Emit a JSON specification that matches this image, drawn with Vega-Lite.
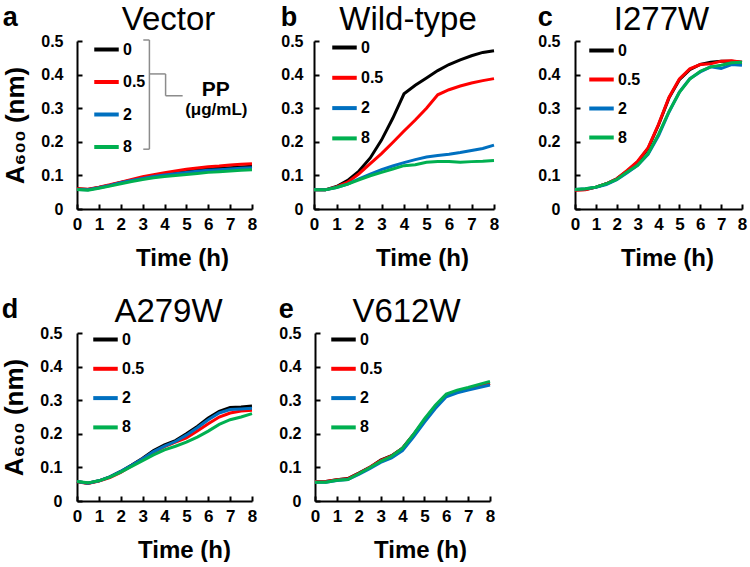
{
  "$schema": "https://vega.github.io/schema/vega-lite/v6.json",
  "padding": {"left": 1, "top": 4, "right": 0, "bottom": 0},
  "background": "white",
  "config": {
    "font": "Liberation Sans",
    "view": {"stroke": null},
    "axis": {
      "grid": false,
      "domainColor": "black",
      "domainWidth": 2,
      "tickColor": "black",
      "tickWidth": 2,
      "tickSize": -5,
      "labelFont": "Liberation Sans",
      "labelFontWeight": "bold",
      "labelFontSize": 16,
      "labelColor": "black",
      "titleFont": "Liberation Sans",
      "titleColor": "black",
      "titleFontWeight": "bold"
    },
    "axisX": {"labelPadding": 12, "labelFontSize": 17, "titleFontSize": 24, "titlePadding": 14, "titleX": 105, "labelFlush": false},
    "axisY": {"labelPadding": 19, "titleFontSize": 26, "titlePadding": 12},
    "legend": {
      "title": null,
      "orient": "none",
      "symbolType": "stroke",
      "symbolStrokeWidth": 4,
      "symbolSize": 600,
      "labelFont": "Liberation Sans",
      "labelFontSize": 16,
      "labelFontWeight": "bold",
      "labelColor": "black",
      "labelOffset": 2,
      "rowPadding": 7,
      "padding": 0
    },
    "title": {"font": "Liberation Sans", "color": "black"}
  },
  "datasets": {
    "d": [
      {"p":"a","c":"0","t":0,"v":0.06},{"p":"a","c":"0","t":0.5,"v":0.058},{"p":"a","c":"0","t":1,"v":0.064},{"p":"a","c":"0","t":1.5,"v":0.071},{"p":"a","c":"0","t":2,"v":0.079},{"p":"a","c":"0","t":2.5,"v":0.086},{"p":"a","c":"0","t":3,"v":0.093},{"p":"a","c":"0","t":3.5,"v":0.099},{"p":"a","c":"0","t":4,"v":0.104},{"p":"a","c":"0","t":4.5,"v":0.108},{"p":"a","c":"0","t":5,"v":0.112},{"p":"a","c":"0","t":5.5,"v":0.116},{"p":"a","c":"0","t":6,"v":0.119},{"p":"a","c":"0","t":6.5,"v":0.121},{"p":"a","c":"0","t":7,"v":0.123},{"p":"a","c":"0","t":7.5,"v":0.125},{"p":"a","c":"0","t":8,"v":0.127},
      {"p":"a","c":"0.5","t":0,"v":0.06},{"p":"a","c":"0.5","t":0.5,"v":0.059},{"p":"a","c":"0.5","t":1,"v":0.065},{"p":"a","c":"0.5","t":1.5,"v":0.072},{"p":"a","c":"0.5","t":2,"v":0.08},{"p":"a","c":"0.5","t":2.5,"v":0.088},{"p":"a","c":"0.5","t":3,"v":0.096},{"p":"a","c":"0.5","t":3.5,"v":0.102},{"p":"a","c":"0.5","t":4,"v":0.108},{"p":"a","c":"0.5","t":4.5,"v":0.113},{"p":"a","c":"0.5","t":5,"v":0.118},{"p":"a","c":"0.5","t":5.5,"v":0.122},{"p":"a","c":"0.5","t":6,"v":0.126},{"p":"a","c":"0.5","t":6.5,"v":0.128},{"p":"a","c":"0.5","t":7,"v":0.131},{"p":"a","c":"0.5","t":7.5,"v":0.133},{"p":"a","c":"0.5","t":8,"v":0.135},
      {"p":"a","c":"2","t":0,"v":0.058},{"p":"a","c":"2","t":0.5,"v":0.057},{"p":"a","c":"2","t":1,"v":0.063},{"p":"a","c":"2","t":1.5,"v":0.07},{"p":"a","c":"2","t":2,"v":0.078},{"p":"a","c":"2","t":2.5,"v":0.085},{"p":"a","c":"2","t":3,"v":0.091},{"p":"a","c":"2","t":3.5,"v":0.097},{"p":"a","c":"2","t":4,"v":0.101},{"p":"a","c":"2","t":4.5,"v":0.105},{"p":"a","c":"2","t":5,"v":0.109},{"p":"a","c":"2","t":5.5,"v":0.112},{"p":"a","c":"2","t":6,"v":0.115},{"p":"a","c":"2","t":6.5,"v":0.117},{"p":"a","c":"2","t":7,"v":0.119},{"p":"a","c":"2","t":7.5,"v":0.121},{"p":"a","c":"2","t":8,"v":0.123},
      {"p":"a","c":"8","t":0,"v":0.058},{"p":"a","c":"8","t":0.5,"v":0.056},{"p":"a","c":"8","t":1,"v":0.062},{"p":"a","c":"8","t":1.5,"v":0.068},{"p":"a","c":"8","t":2,"v":0.075},{"p":"a","c":"8","t":2.5,"v":0.082},{"p":"a","c":"8","t":3,"v":0.088},{"p":"a","c":"8","t":3.5,"v":0.093},{"p":"a","c":"8","t":4,"v":0.097},{"p":"a","c":"8","t":4.5,"v":0.1},{"p":"a","c":"8","t":5,"v":0.103},{"p":"a","c":"8","t":5.5,"v":0.106},{"p":"a","c":"8","t":6,"v":0.109},{"p":"a","c":"8","t":6.5,"v":0.111},{"p":"a","c":"8","t":7,"v":0.113},{"p":"a","c":"8","t":7.5,"v":0.115},{"p":"a","c":"8","t":8,"v":0.117},

      {"p":"b","c":"0","t":0,"v":0.057},{"p":"b","c":"0","t":0.5,"v":0.057},{"p":"b","c":"0","t":1,"v":0.067},{"p":"b","c":"0","t":1.5,"v":0.085},{"p":"b","c":"0","t":2,"v":0.113},{"p":"b","c":"0","t":2.5,"v":0.152},{"p":"b","c":"0","t":3,"v":0.205},{"p":"b","c":"0","t":3.5,"v":0.27},{"p":"b","c":"0","t":4,"v":0.343},{"p":"b","c":"0","t":4.5,"v":0.368},{"p":"b","c":"0","t":5,"v":0.39},{"p":"b","c":"0","t":5.5,"v":0.412},{"p":"b","c":"0","t":6,"v":0.43},{"p":"b","c":"0","t":6.5,"v":0.444},{"p":"b","c":"0","t":7,"v":0.456},{"p":"b","c":"0","t":7.5,"v":0.466},{"p":"b","c":"0","t":8,"v":0.471},
      {"p":"b","c":"0.5","t":0,"v":0.057},{"p":"b","c":"0.5","t":0.5,"v":0.057},{"p":"b","c":"0.5","t":1,"v":0.066},{"p":"b","c":"0.5","t":1.5,"v":0.08},{"p":"b","c":"0.5","t":2,"v":0.105},{"p":"b","c":"0.5","t":2.5,"v":0.135},{"p":"b","c":"0.5","t":3,"v":0.165},{"p":"b","c":"0.5","t":3.5,"v":0.198},{"p":"b","c":"0.5","t":4,"v":0.232},{"p":"b","c":"0.5","t":4.5,"v":0.265},{"p":"b","c":"0.5","t":5,"v":0.3},{"p":"b","c":"0.5","t":5.5,"v":0.34},{"p":"b","c":"0.5","t":6,"v":0.355},{"p":"b","c":"0.5","t":6.5,"v":0.366},{"p":"b","c":"0.5","t":7,"v":0.375},{"p":"b","c":"0.5","t":7.5,"v":0.382},{"p":"b","c":"0.5","t":8,"v":0.388},
      {"p":"b","c":"2","t":0,"v":0.057},{"p":"b","c":"2","t":0.5,"v":0.057},{"p":"b","c":"2","t":1,"v":0.064},{"p":"b","c":"2","t":1.5,"v":0.074},{"p":"b","c":"2","t":2,"v":0.09},{"p":"b","c":"2","t":2.5,"v":0.104},{"p":"b","c":"2","t":3,"v":0.117},{"p":"b","c":"2","t":3.5,"v":0.128},{"p":"b","c":"2","t":4,"v":0.138},{"p":"b","c":"2","t":4.5,"v":0.147},{"p":"b","c":"2","t":5,"v":0.155},{"p":"b","c":"2","t":5.5,"v":0.159},{"p":"b","c":"2","t":6,"v":0.163},{"p":"b","c":"2","t":6.5,"v":0.168},{"p":"b","c":"2","t":7,"v":0.174},{"p":"b","c":"2","t":7.5,"v":0.18},{"p":"b","c":"2","t":8,"v":0.19},
      {"p":"b","c":"8","t":0,"v":0.057},{"p":"b","c":"8","t":0.5,"v":0.057},{"p":"b","c":"8","t":1,"v":0.064},{"p":"b","c":"8","t":1.5,"v":0.074},{"p":"b","c":"8","t":2,"v":0.087},{"p":"b","c":"8","t":2.5,"v":0.099},{"p":"b","c":"8","t":3,"v":0.109},{"p":"b","c":"8","t":3.5,"v":0.119},{"p":"b","c":"8","t":4,"v":0.129},{"p":"b","c":"8","t":4.5,"v":0.132},{"p":"b","c":"8","t":5,"v":0.139},{"p":"b","c":"8","t":5.5,"v":0.141},{"p":"b","c":"8","t":6,"v":0.141},{"p":"b","c":"8","t":6.5,"v":0.139},{"p":"b","c":"8","t":7,"v":0.141},{"p":"b","c":"8","t":7.5,"v":0.142},{"p":"b","c":"8","t":8,"v":0.144},

      {"p":"c","c":"0","t":0,"v":0.057},{"p":"c","c":"0","t":0.5,"v":0.058},{"p":"c","c":"0","t":1,"v":0.065},{"p":"c","c":"0","t":1.5,"v":0.075},{"p":"c","c":"0","t":2,"v":0.09},{"p":"c","c":"0","t":2.5,"v":0.113},{"p":"c","c":"0","t":3,"v":0.14},{"p":"c","c":"0","t":3.5,"v":0.18},{"p":"c","c":"0","t":4,"v":0.25},{"p":"c","c":"0","t":4.5,"v":0.33},{"p":"c","c":"0","t":5,"v":0.385},{"p":"c","c":"0","t":5.5,"v":0.415},{"p":"c","c":"0","t":6,"v":0.43},{"p":"c","c":"0","t":6.5,"v":0.437},{"p":"c","c":"0","t":7,"v":0.44},{"p":"c","c":"0","t":7.5,"v":0.44},{"p":"c","c":"0","t":8,"v":0.437},
      {"p":"c","c":"0.5","t":0,"v":0.056},{"p":"c","c":"0.5","t":0.5,"v":0.057},{"p":"c","c":"0.5","t":1,"v":0.065},{"p":"c","c":"0.5","t":1.5,"v":0.075},{"p":"c","c":"0.5","t":2,"v":0.09},{"p":"c","c":"0.5","t":2.5,"v":0.115},{"p":"c","c":"0.5","t":3,"v":0.142},{"p":"c","c":"0.5","t":3.5,"v":0.182},{"p":"c","c":"0.5","t":4,"v":0.252},{"p":"c","c":"0.5","t":4.5,"v":0.332},{"p":"c","c":"0.5","t":5,"v":0.387},{"p":"c","c":"0.5","t":5.5,"v":0.417},{"p":"c","c":"0.5","t":6,"v":0.43},{"p":"c","c":"0.5","t":6.5,"v":0.432},{"p":"c","c":"0.5","t":7,"v":0.44},{"p":"c","c":"0.5","t":7.5,"v":0.441},{"p":"c","c":"0.5","t":8,"v":0.437},
      {"p":"c","c":"2","t":0,"v":0.058},{"p":"c","c":"2","t":0.5,"v":0.06},{"p":"c","c":"2","t":1,"v":0.065},{"p":"c","c":"2","t":1.5,"v":0.073},{"p":"c","c":"2","t":2,"v":0.087},{"p":"c","c":"2","t":2.5,"v":0.108},{"p":"c","c":"2","t":3,"v":0.13},{"p":"c","c":"2","t":3.5,"v":0.163},{"p":"c","c":"2","t":4,"v":0.218},{"p":"c","c":"2","t":4.5,"v":0.288},{"p":"c","c":"2","t":5,"v":0.348},{"p":"c","c":"2","t":5.5,"v":0.388},{"p":"c","c":"2","t":6,"v":0.408},{"p":"c","c":"2","t":6.5,"v":0.423},{"p":"c","c":"2","t":7,"v":0.418},{"p":"c","c":"2","t":7.5,"v":0.43},{"p":"c","c":"2","t":8,"v":0.428},
      {"p":"c","c":"8","t":0,"v":0.058},{"p":"c","c":"8","t":0.5,"v":0.06},{"p":"c","c":"8","t":1,"v":0.065},{"p":"c","c":"8","t":1.5,"v":0.075},{"p":"c","c":"8","t":2,"v":0.088},{"p":"c","c":"8","t":2.5,"v":0.11},{"p":"c","c":"8","t":3,"v":0.13},{"p":"c","c":"8","t":3.5,"v":0.165},{"p":"c","c":"8","t":4,"v":0.222},{"p":"c","c":"8","t":4.5,"v":0.29},{"p":"c","c":"8","t":5,"v":0.347},{"p":"c","c":"8","t":5.5,"v":0.387},{"p":"c","c":"8","t":6,"v":0.41},{"p":"c","c":"8","t":6.5,"v":0.423},{"p":"c","c":"8","t":7,"v":0.428},{"p":"c","c":"8","t":7.5,"v":0.435},{"p":"c","c":"8","t":8,"v":0.437},

      {"p":"d","c":"0","t":0,"v":0.058},{"p":"d","c":"0","t":0.5,"v":0.053},{"p":"d","c":"0","t":1,"v":0.06},{"p":"d","c":"0","t":1.5,"v":0.072},{"p":"d","c":"0","t":2,"v":0.088},{"p":"d","c":"0","t":2.5,"v":0.107},{"p":"d","c":"0","t":3,"v":0.127},{"p":"d","c":"0","t":3.5,"v":0.15},{"p":"d","c":"0","t":4,"v":0.167},{"p":"d","c":"0","t":4.5,"v":0.18},{"p":"d","c":"0","t":5,"v":0.2},{"p":"d","c":"0","t":5.5,"v":0.222},{"p":"d","c":"0","t":6,"v":0.247},{"p":"d","c":"0","t":6.5,"v":0.267},{"p":"d","c":"0","t":7,"v":0.278},{"p":"d","c":"0","t":7.5,"v":0.28},{"p":"d","c":"0","t":8,"v":0.283},
      {"p":"d","c":"0.5","t":0,"v":0.057},{"p":"d","c":"0.5","t":0.5,"v":0.052},{"p":"d","c":"0.5","t":1,"v":0.059},{"p":"d","c":"0.5","t":1.5,"v":0.07},{"p":"d","c":"0.5","t":2,"v":0.085},{"p":"d","c":"0.5","t":2.5,"v":0.105},{"p":"d","c":"0.5","t":3,"v":0.125},{"p":"d","c":"0.5","t":3.5,"v":0.145},{"p":"d","c":"0.5","t":4,"v":0.162},{"p":"d","c":"0.5","t":4.5,"v":0.175},{"p":"d","c":"0.5","t":5,"v":0.188},{"p":"d","c":"0.5","t":5.5,"v":0.208},{"p":"d","c":"0.5","t":6,"v":0.23},{"p":"d","c":"0.5","t":6.5,"v":0.25},{"p":"d","c":"0.5","t":7,"v":0.262},{"p":"d","c":"0.5","t":7.5,"v":0.268},{"p":"d","c":"0.5","t":8,"v":0.27},
      {"p":"d","c":"2","t":0,"v":0.058},{"p":"d","c":"2","t":0.5,"v":0.053},{"p":"d","c":"2","t":1,"v":0.06},{"p":"d","c":"2","t":1.5,"v":0.072},{"p":"d","c":"2","t":2,"v":0.088},{"p":"d","c":"2","t":2.5,"v":0.106},{"p":"d","c":"2","t":3,"v":0.126},{"p":"d","c":"2","t":3.5,"v":0.147},{"p":"d","c":"2","t":4,"v":0.163},{"p":"d","c":"2","t":4.5,"v":0.177},{"p":"d","c":"2","t":5,"v":0.196},{"p":"d","c":"2","t":5.5,"v":0.218},{"p":"d","c":"2","t":6,"v":0.242},{"p":"d","c":"2","t":6.5,"v":0.262},{"p":"d","c":"2","t":7,"v":0.272},{"p":"d","c":"2","t":7.5,"v":0.274},{"p":"d","c":"2","t":8,"v":0.276},
      {"p":"d","c":"8","t":0,"v":0.058},{"p":"d","c":"8","t":0.5,"v":0.054},{"p":"d","c":"8","t":1,"v":0.06},{"p":"d","c":"8","t":1.5,"v":0.071},{"p":"d","c":"8","t":2,"v":0.086},{"p":"d","c":"8","t":2.5,"v":0.103},{"p":"d","c":"8","t":3,"v":0.12},{"p":"d","c":"8","t":3.5,"v":0.137},{"p":"d","c":"8","t":4,"v":0.152},{"p":"d","c":"8","t":4.5,"v":0.163},{"p":"d","c":"8","t":5,"v":0.175},{"p":"d","c":"8","t":5.5,"v":0.19},{"p":"d","c":"8","t":6,"v":0.208},{"p":"d","c":"8","t":6.5,"v":0.228},{"p":"d","c":"8","t":7,"v":0.242},{"p":"d","c":"8","t":7.5,"v":0.25},{"p":"d","c":"8","t":8,"v":0.26},

      {"p":"e","c":"0","t":0,"v":0.058},{"p":"e","c":"0","t":0.5,"v":0.058},{"p":"e","c":"0","t":1,"v":0.063},{"p":"e","c":"0","t":1.5,"v":0.067},{"p":"e","c":"0","t":2,"v":0.083},{"p":"e","c":"0","t":2.5,"v":0.1},{"p":"e","c":"0","t":3,"v":0.122},{"p":"e","c":"0","t":3.5,"v":0.135},{"p":"e","c":"0","t":4,"v":0.157},{"p":"e","c":"0","t":4.5,"v":0.197},{"p":"e","c":"0","t":5,"v":0.24},{"p":"e","c":"0","t":5.5,"v":0.28},{"p":"e","c":"0","t":6,"v":0.316},{"p":"e","c":"0","t":6.5,"v":0.327},{"p":"e","c":"0","t":7,"v":0.335},{"p":"e","c":"0","t":7.5,"v":0.343},{"p":"e","c":"0","t":8,"v":0.35},
      {"p":"e","c":"0.5","t":0,"v":0.058},{"p":"e","c":"0.5","t":0.5,"v":0.058},{"p":"e","c":"0.5","t":1,"v":0.063},{"p":"e","c":"0.5","t":1.5,"v":0.066},{"p":"e","c":"0.5","t":2,"v":0.082},{"p":"e","c":"0.5","t":2.5,"v":0.1},{"p":"e","c":"0.5","t":3,"v":0.12},{"p":"e","c":"0.5","t":3.5,"v":0.134},{"p":"e","c":"0.5","t":4,"v":0.157},{"p":"e","c":"0.5","t":4.5,"v":0.197},{"p":"e","c":"0.5","t":5,"v":0.24},{"p":"e","c":"0.5","t":5.5,"v":0.28},{"p":"e","c":"0.5","t":6,"v":0.316},{"p":"e","c":"0.5","t":6.5,"v":0.327},{"p":"e","c":"0.5","t":7,"v":0.335},{"p":"e","c":"0.5","t":7.5,"v":0.344},{"p":"e","c":"0.5","t":8,"v":0.35},
      {"p":"e","c":"2","t":0,"v":0.056},{"p":"e","c":"2","t":0.5,"v":0.056},{"p":"e","c":"2","t":1,"v":0.061},{"p":"e","c":"2","t":1.5,"v":0.064},{"p":"e","c":"2","t":2,"v":0.079},{"p":"e","c":"2","t":2.5,"v":0.096},{"p":"e","c":"2","t":3,"v":0.115},{"p":"e","c":"2","t":3.5,"v":0.128},{"p":"e","c":"2","t":4,"v":0.15},{"p":"e","c":"2","t":4.5,"v":0.19},{"p":"e","c":"2","t":5,"v":0.234},{"p":"e","c":"2","t":5.5,"v":0.275},{"p":"e","c":"2","t":6,"v":0.31},{"p":"e","c":"2","t":6.5,"v":0.322},{"p":"e","c":"2","t":7,"v":0.33},{"p":"e","c":"2","t":7.5,"v":0.338},{"p":"e","c":"2","t":8,"v":0.345},
      {"p":"e","c":"8","t":0,"v":0.056},{"p":"e","c":"8","t":0.5,"v":0.056},{"p":"e","c":"8","t":1,"v":0.062},{"p":"e","c":"8","t":1.5,"v":0.064},{"p":"e","c":"8","t":2,"v":0.081},{"p":"e","c":"8","t":2.5,"v":0.099},{"p":"e","c":"8","t":3,"v":0.118},{"p":"e","c":"8","t":3.5,"v":0.133},{"p":"e","c":"8","t":4,"v":0.157},{"p":"e","c":"8","t":4.5,"v":0.198},{"p":"e","c":"8","t":5,"v":0.244},{"p":"e","c":"8","t":5.5,"v":0.285},{"p":"e","c":"8","t":6,"v":0.318},{"p":"e","c":"8","t":6.5,"v":0.33},{"p":"e","c":"8","t":7,"v":0.338},{"p":"e","c":"8","t":7.5,"v":0.347},{"p":"e","c":"8","t":8,"v":0.356}
    ]
  },
  "resolve": {"scale": {"color": "independent"}, "legend": {"color": "independent"}},
  "spacing": 26,
  "vconcat": [
    {
      "spacing": 22,
      "resolve": {"scale": {"color": "independent"}, "legend": {"color": "independent"}},
      "hconcat": [
        {
          "title": {"text": "a", "anchor": "start", "frame": "bounds", "fontSize": 27, "fontWeight": "bold", "offset": -49, "baseline": "alphabetic"},
          "vconcat": [
            {
              "title": {"text": "Vector", "fontSize": 33, "fontWeight": "normal", "anchor": "middle", "frame": "group", "dx": 4, "offset": -4},
              "width": 175, "height": 168,
              "layer": [
                {
                  "data": {"name": "d"},
                  "transform": [{"filter": "datum.p === 'a'"}],
                  "mark": {"type": "line", "strokeWidth": 3},
                  "encoding": {
                    "x": {"field": "t", "type": "quantitative", "scale": {"domain": [0, 8], "nice": false}, "axis": {"values": [0,1,2,3,4,5,6,7,8], "format": "d", "title": "Time (h)"}},
                    "y": {"field": "v", "type": "quantitative", "scale": {"domain": [0, 0.5], "nice": false}, "axis": {"values": [0,0.1,0.2,0.3,0.4,0.5], "format": "~g", "title": "A₆₀₀ (nm)", "labelPadding": 19}},
                    "color": {"field": "c", "type": "nominal", "scale": {"domain": ["0","0.5","2","8"], "range": ["#000000","#ff0000","#0070c0","#00b050"]}, "legend": {"legendX": 15, "legendY": -6, "rowPadding": 9.5}}
                  }
                },
                {"data": {"values": [{}]}, "mark": {"type": "rule", "color": "#8c8c8c", "strokeWidth": 1.5}, "encoding": {"x": {"datum": 3.31, "type": "quantitative", "axis": {"values": [0,1,2,3,4,5,6,7,8], "format": "d", "title": "Time (h)"}}, "y": {"datum": 0.178, "type": "quantitative", "axis": {"values": [0,0.1,0.2,0.3,0.4,0.5], "format": "~g", "title": "A₆₀₀ (nm)", "labelPadding": 19}}, "y2": {"datum": 0.503}}},
                {"data": {"values": [{}]}, "mark": {"type": "rule", "color": "#8c8c8c", "strokeWidth": 1.5}, "encoding": {"x": {"datum": 3.03, "type": "quantitative", "axis": {"values": [0,1,2,3,4,5,6,7,8], "format": "d", "title": "Time (h)"}}, "x2": {"datum": 3.31}, "y": {"datum": 0.503, "type": "quantitative", "axis": {"values": [0,0.1,0.2,0.3,0.4,0.5], "format": "~g", "title": "A₆₀₀ (nm)", "labelPadding": 19}}}},
                {"data": {"values": [{}]}, "mark": {"type": "rule", "color": "#8c8c8c", "strokeWidth": 1.5}, "encoding": {"x": {"datum": 3.03, "type": "quantitative", "axis": {"values": [0,1,2,3,4,5,6,7,8], "format": "d", "title": "Time (h)"}}, "x2": {"datum": 3.31}, "y": {"datum": 0.178, "type": "quantitative", "axis": {"values": [0,0.1,0.2,0.3,0.4,0.5], "format": "~g", "title": "A₆₀₀ (nm)", "labelPadding": 19}}}},
                {"data": {"values": [{}]}, "mark": {"type": "rule", "color": "#8c8c8c", "strokeWidth": 1.5}, "encoding": {"x": {"datum": 3.31, "type": "quantitative", "axis": {"values": [0,1,2,3,4,5,6,7,8], "format": "d", "title": "Time (h)"}}, "x2": {"datum": 4.05}, "y": {"datum": 0.402, "type": "quantitative", "axis": {"values": [0,0.1,0.2,0.3,0.4,0.5], "format": "~g", "title": "A₆₀₀ (nm)", "labelPadding": 19}}}},
                {"data": {"values": [{}]}, "mark": {"type": "rule", "color": "#8c8c8c", "strokeWidth": 1.5}, "encoding": {"x": {"datum": 4.05, "type": "quantitative", "axis": {"values": [0,1,2,3,4,5,6,7,8], "format": "d", "title": "Time (h)"}}, "y": {"datum": 0.337, "type": "quantitative", "axis": {"values": [0,0.1,0.2,0.3,0.4,0.5], "format": "~g", "title": "A₆₀₀ (nm)", "labelPadding": 19}}, "y2": {"datum": 0.402}}},
                {"data": {"values": [{}]}, "mark": {"type": "rule", "color": "#8c8c8c", "strokeWidth": 1.5}, "encoding": {"x": {"datum": 4.05, "type": "quantitative", "axis": {"values": [0,1,2,3,4,5,6,7,8], "format": "d", "title": "Time (h)"}}, "x2": {"datum": 4.83}, "y": {"datum": 0.337, "type": "quantitative", "axis": {"values": [0,0.1,0.2,0.3,0.4,0.5], "format": "~g", "title": "A₆₀₀ (nm)", "labelPadding": 19}}}},
                {"data": {"values": [{}]}, "mark": {"type": "text", "text": "PP", "fontSize": 21, "fontWeight": "bold", "fill": "#000000", "baseline": "middle", "align": "center"}, "encoding": {"x": {"datum": 6.34, "type": "quantitative", "axis": {"values": [0,1,2,3,4,5,6,7,8], "format": "d", "title": "Time (h)"}}, "y": {"datum": 0.355, "type": "quantitative", "axis": {"values": [0,0.1,0.2,0.3,0.4,0.5], "format": "~g", "title": "A₆₀₀ (nm)", "labelPadding": 19}}}},
                {"data": {"values": [{}]}, "mark": {"type": "text", "text": "(μg/mL)", "fontSize": 17, "fontWeight": "bold", "fill": "#000000", "baseline": "middle", "align": "center"}, "encoding": {"x": {"datum": 6.37, "type": "quantitative", "axis": {"values": [0,1,2,3,4,5,6,7,8], "format": "d", "title": "Time (h)"}}, "y": {"datum": 0.296, "type": "quantitative", "axis": {"values": [0,0.1,0.2,0.3,0.4,0.5], "format": "~g", "title": "A₆₀₀ (nm)", "labelPadding": 19}}}}
              ]
            }
          ]
        },
        {
          "spacing": 37,
          "resolve": {"scale": {"color": "independent"}, "legend": {"color": "independent"}},
          "hconcat": [
            {
              "title": {"text": "b", "anchor": "start", "frame": "bounds", "fontSize": 27, "fontWeight": "bold", "offset": -49, "baseline": "alphabetic"},
              "vconcat": [
                {
                  "title": {"text": "Wild-type", "fontSize": 33, "fontWeight": "normal", "anchor": "middle", "frame": "group", "dx": 4, "offset": -4},
                  "width": 180, "height": 168,
                  "data": {"name": "d"},
                  "transform": [{"filter": "datum.p === 'b'"}],
                  "mark": {"type": "line", "strokeWidth": 3},
                  "encoding": {
                    "x": {"field": "t", "type": "quantitative", "scale": {"domain": [0, 8], "nice": false}, "axis": {"values": [0,1,2,3,4,5,6,7,8], "format": "d", "title": "Time (h)", "titleX": 108}},
                    "y": {"field": "v", "type": "quantitative", "scale": {"domain": [0, 0.5], "nice": false}, "axis": {"values": [0,0.1,0.2,0.3,0.4,0.5], "format": "~g", "title": null, "labelPadding": 16}},
                    "color": {"field": "c", "type": "nominal", "scale": {"domain": ["0","0.5","2","8"], "range": ["#000000","#ff0000","#0070c0","#00b050"]}, "legend": {"legendX": 16, "legendY": -8, "rowPadding": 7.3}}
                  }
                }
              ]
            },
            {
              "title": {"text": "c", "anchor": "start", "frame": "bounds", "fontSize": 27, "fontWeight": "bold", "offset": -49, "baseline": "alphabetic"},
              "vconcat": [
                {
                  "title": {"text": "I277W", "fontSize": 33, "fontWeight": "normal", "anchor": "middle", "frame": "group", "dx": 3, "offset": -4},
                  "width": 167, "height": 168,
                  "data": {"name": "d"},
                  "transform": [{"filter": "datum.p === 'c'"}],
                  "mark": {"type": "line", "strokeWidth": 3},
                  "encoding": {
                    "x": {"field": "t", "type": "quantitative", "scale": {"domain": [0, 8], "nice": false}, "axis": {"values": [0,1,2,3,4,5,6,7,8], "format": "d", "title": "Time (h)", "titleX": 92}},
                    "y": {"field": "v", "type": "quantitative", "scale": {"domain": [0, 0.5], "nice": false}, "axis": {"values": [0,0.1,0.2,0.3,0.4,0.5], "format": "~g", "title": null, "labelPadding": 20}},
                    "color": {"field": "c", "type": "nominal", "scale": {"domain": ["0","0.5","2","8"], "range": ["#000000","#ff0000","#0070c0","#00b050"]}, "legend": {"legendX": 12, "legendY": -5, "rowPadding": 6}}
                  }
                }
              ]
            }
          ]
        }
      ]
    },
    {
      "spacing": 20,
      "resolve": {"scale": {"color": "independent"}, "legend": {"color": "independent"}},
      "hconcat": [
        {
          "title": {"text": "d", "anchor": "start", "frame": "bounds", "fontSize": 27, "fontWeight": "bold", "offset": -49, "baseline": "alphabetic"},
          "vconcat": [
            {
              "title": {"text": "A279W", "fontSize": 33, "fontWeight": "normal", "anchor": "middle", "frame": "group", "dx": 4, "offset": -4},
              "width": 175, "height": 168,
              "data": {"name": "d"},
              "transform": [{"filter": "datum.p === 'd'"}],
              "mark": {"type": "line", "strokeWidth": 3},
              "encoding": {
                "x": {"field": "t", "type": "quantitative", "scale": {"domain": [0, 8], "nice": false}, "axis": {"values": [0,1,2,3,4,5,6,7,8], "format": "d", "title": "Time (h)", "titleX": 107}},
                "y": {"field": "v", "type": "quantitative", "scale": {"domain": [0, 0.5], "nice": false}, "axis": {"values": [0,0.1,0.2,0.3,0.4,0.5], "format": "~g", "title": "A₆₀₀ (nm)", "labelPadding": 20}},
                "color": {"field": "c", "type": "nominal", "scale": {"domain": ["0","0.5","2","8"], "range": ["#000000","#ff0000","#0070c0","#00b050"]}, "legend": {"legendX": 14, "legendY": -8, "rowPadding": 6.3}}
              }
            }
          ]
        },
        {
          "title": {"text": "e", "anchor": "start", "frame": "bounds", "fontSize": 27, "fontWeight": "bold", "offset": -49, "baseline": "alphabetic"},
          "vconcat": [
            {
              "title": {"text": "V612W", "fontSize": 33, "fontWeight": "normal", "anchor": "middle", "frame": "group", "dx": 4, "offset": -4},
              "width": 175, "height": 168,
              "data": {"name": "d"},
              "transform": [{"filter": "datum.p === 'e'"}],
              "mark": {"type": "line", "strokeWidth": 3},
              "encoding": {
                "x": {"field": "t", "type": "quantitative", "scale": {"domain": [0, 8], "nice": false}, "axis": {"values": [0,1,2,3,4,5,6,7,8], "format": "d", "title": "Time (h)"}},
                "y": {"field": "v", "type": "quantitative", "scale": {"domain": [0, 0.5], "nice": false}, "axis": {"values": [0,0.1,0.2,0.3,0.4,0.5], "format": "~g", "title": null, "labelPadding": 19}},
                "color": {"field": "c", "type": "nominal", "scale": {"domain": ["0","0.5","2","8"], "range": ["#000000","#ff0000","#0070c0","#00b050"]}, "legend": {"legendX": 14, "legendY": -8, "rowPadding": 6.3}}
              }
            }
          ]
        }
      ]
    }
  ]
}
